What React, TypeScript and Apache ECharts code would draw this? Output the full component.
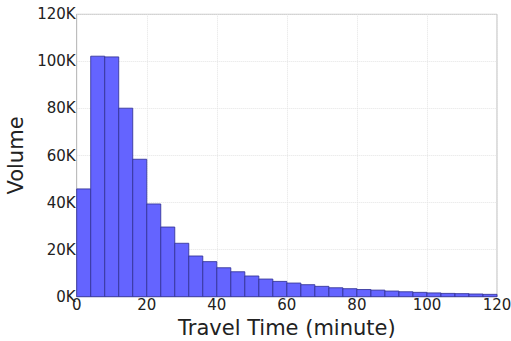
import React, { useEffect, useRef } from "react";
import * as echarts from "echarts";

// Histogram of trip durations: 4-minute bins from 0 to 120 minutes
const BIN_WIDTH = 4;
const binStarts = [
  0, 4, 8, 12, 16, 20, 24, 28, 32, 36, 40, 44, 48, 52, 56,
  60, 64, 68, 72, 76, 80, 84, 88, 92, 96, 100, 104, 108, 112, 116,
];
const volumes = [
  45800, 102200, 101900, 80100, 58400, 39400, 29600, 22700, 17300, 14900,
  12300, 10600, 8800, 7500, 6500, 5800, 5100, 4400, 3800, 3400,
  3050, 2800, 2400, 2100, 1850, 1600, 1400, 1300, 1150, 1000,
];
const xTicks = [0, 20, 40, 60, 80, 100, 120];
const yTicks = [0, 20000, 40000, 60000, 80000, 100000, 120000];

const FONT = "DejaVu Sans";

export default function App() {
  const ref = useRef<HTMLDivElement>(null);

  useEffect(() => {
    document.body.style.margin = "0";
    if (!ref.current) return;
    const chart = echarts.init(ref.current, null, { renderer: "svg" });
    const data = binStarts.map((s, i) => [s, s + BIN_WIDTH, volumes[i]]);

    chart.setOption({
      animation: false,
      backgroundColor: "#ffffff",
      grid: {
        left: 76.7,
        right: 14,
        top: 14.3,
        bottom: 44.3,
        containLabel: false,
        outerBoundsMode: "none",
        show: true,
        borderColor: "#bdbdbd",
        borderWidth: 1,
      },
      xAxis: {
        type: "value",
        min: xTicks[0],
        max: xTicks[xTicks.length - 1],
        interval: 20,
        name: "Travel Time (minute)",
        nameLocation: "middle",
        nameGap: 14,
        nameTextStyle: { fontFamily: FONT, fontSize: 21, color: "#222" },
        axisLine: { show: true, lineStyle: { color: "#bdbdbd", width: 1 } },
        axisTick: { show: false },
        axisLabel: {
          fontFamily: FONT,
          fontSize: 15,
          color: "#222",
          margin: 1,
          showMaxLabel: true,
        },
        splitLine: {
          show: true,
          lineStyle: { color: "#e4e4e4", type: "dotted", width: 1 },
        },
      },
      yAxis: {
        type: "value",
        min: yTicks[0],
        max: yTicks[yTicks.length - 1],
        interval: 20000,
        name: "Volume",
        nameLocation: "middle",
        nameGap: 48,
        nameTextStyle: { fontFamily: FONT, fontSize: 21, color: "#222" },
        axisLine: { show: true, lineStyle: { color: "#bdbdbd", width: 1 } },
        axisTick: { show: false },
        axisLabel: {
          fontFamily: FONT,
          fontSize: 15,
          color: "#222",
          margin: 1,
          formatter: (v: number) => `${Math.round(v / 1000)}K`,
        },
        splitLine: {
          show: true,
          lineStyle: { color: "#e4e4e4", type: "dotted", width: 1 },
        },
      },
      series: [
        {
          type: "custom",
          data,
          encode: { x: [0, 1], y: 2 },
          renderItem: (params: any, api: any) => {
            const p0 = api.coord([api.value(0), api.value(2)]);
            const p1 = api.coord([api.value(1), 0]);
            return {
              type: "rect",
              shape: {
                x: p0[0],
                y: p0[1],
                width: p1[0] - p0[0],
                height: p1[1] - p0[1],
              },
              style: {
                fill: "rgb(100,100,255)",
                stroke: "rgba(50,50,150,0.85)",
                lineWidth: 1,
              },
            };
          },
        },
      ],
    });

    return () => chart.dispose();
  }, []);

  return <div ref={ref} style={{ width: 511, height: 341 }} />;
}
